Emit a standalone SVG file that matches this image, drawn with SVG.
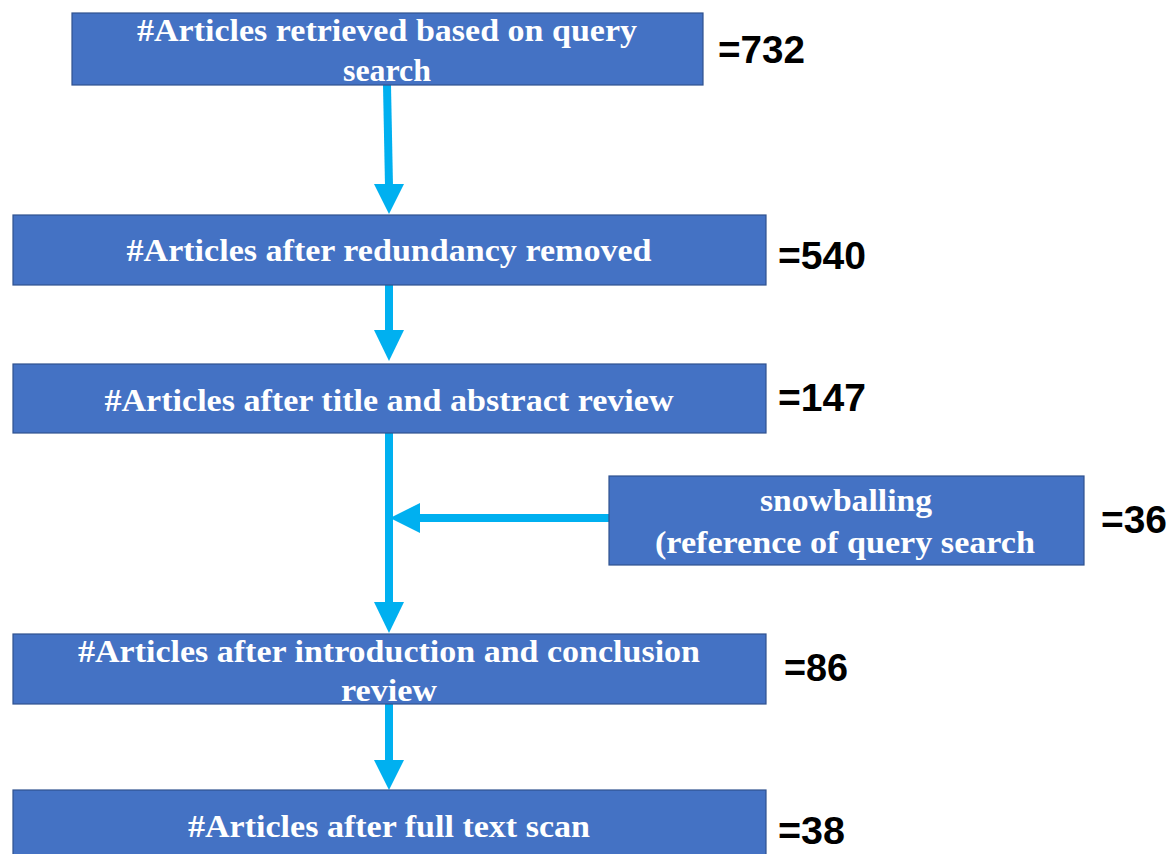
<svg xmlns="http://www.w3.org/2000/svg" width="1175" height="854" viewBox="0 0 1175 854">
  <style>
    .box { fill: #4472C4; stroke: #2F528F; stroke-width: 1.2; }
    .lbl { font-family: "Liberation Serif", "Times New Roman", serif; font-weight: bold; font-size: 32px; fill: #FFFFFF; text-anchor: middle; }
    .cnt { font-family: "Liberation Sans", Arial, sans-serif; font-weight: bold; font-size: 39px; fill: #000000; }
    .wire { stroke: #00B0F0; stroke-width: 8; fill: none; }
    .head { fill: #00B0F0; }
  </style>
  <rect width="1175" height="854" fill="#FFFFFF"/>

  <!-- connectors -->
  <g id="connectors">
    <line class="wire" x1="387" y1="85" x2="389" y2="186"/>
    <polygon class="head" points="374,184 404,184 389,214"/>
    <line class="wire" x1="389" y1="285" x2="389" y2="332"/>
    <polygon class="head" points="374,330 404,330 389,361"/>
    <line class="wire" x1="389" y1="433" x2="389" y2="604"/>
    <polygon class="head" points="374,602 404,602 389,633"/>
    <line class="wire" x1="609" y1="518" x2="418" y2="518"/>
    <polygon class="head" points="420,503 420,533 390,518"/>
    <line class="wire" x1="389" y1="704" x2="389" y2="762"/>
    <polygon class="head" points="374,760 404,760 389,790"/>
  </g>

  <g id="node-retrieved">
    <rect class="box" x="72" y="13" width="631" height="72"/>
    <text class="lbl" x="387" y="41" textLength="500" lengthAdjust="spacingAndGlyphs">#Articles retrieved based on query</text>
    <text class="lbl" x="387" y="81" textLength="88" lengthAdjust="spacingAndGlyphs">search</text>
    <text class="cnt" x="718" y="63" textLength="87" lengthAdjust="spacingAndGlyphs">=732</text>
  </g>

  <g id="node-redundancy">
    <rect class="box" x="13" y="215" width="753" height="70"/>
    <text class="lbl" x="389" y="261" textLength="525" lengthAdjust="spacingAndGlyphs">#Articles after redundancy removed</text>
    <text class="cnt" x="778" y="269" textLength="88" lengthAdjust="spacingAndGlyphs">=540</text>
  </g>

  <g id="node-title-abstract">
    <rect class="box" x="13" y="364" width="753" height="69"/>
    <text class="lbl" x="389" y="411" textLength="569" lengthAdjust="spacingAndGlyphs">#Articles after title and abstract review</text>
    <text class="cnt" x="778" y="411" textLength="88" lengthAdjust="spacingAndGlyphs">=147</text>
  </g>

  <g id="node-snowballing">
    <rect class="box" x="609" y="476" width="475" height="89"/>
    <text class="lbl" x="846" y="511" textLength="172" lengthAdjust="spacingAndGlyphs">snowballing</text>
    <text class="lbl" x="845" y="553" textLength="380" lengthAdjust="spacingAndGlyphs">(reference of query search</text>
    <text class="cnt" x="1101" y="533" textLength="66" lengthAdjust="spacingAndGlyphs">=36</text>
  </g>

  <g id="node-intro-conclusion">
    <rect class="box" x="13" y="634" width="753" height="70"/>
    <text class="lbl" x="389" y="662" textLength="622" lengthAdjust="spacingAndGlyphs">#Articles after introduction and conclusion</text>
    <text class="lbl" x="389" y="701" textLength="96" lengthAdjust="spacingAndGlyphs">review</text>
    <text class="cnt" x="784" y="681" textLength="64" lengthAdjust="spacingAndGlyphs">=86</text>
  </g>

  <g id="node-full-text">
    <rect class="box" x="13" y="790" width="753" height="70"/>
    <text class="lbl" x="389" y="837" textLength="402" lengthAdjust="spacingAndGlyphs">#Articles after full text scan</text>
    <text class="cnt" x="778" y="844" textLength="67" lengthAdjust="spacingAndGlyphs">=38</text>
  </g>
</svg>
